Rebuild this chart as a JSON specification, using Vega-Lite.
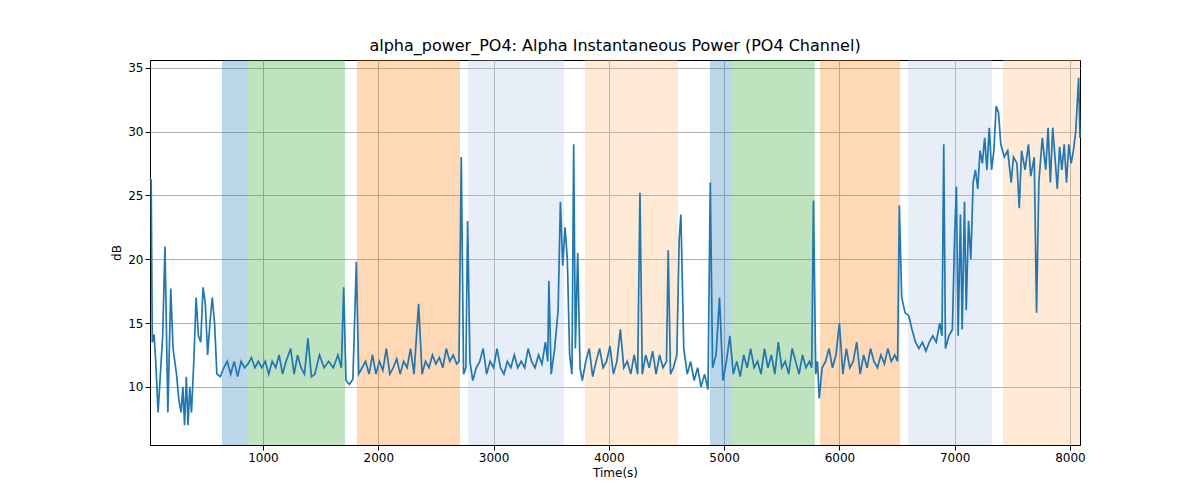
{
  "$schema": "https://vega.github.io/schema/vega-lite/v6.json",
  "width": 930,
  "height": 385,
  "padding": {"left": 150, "top": 60, "right": 120, "bottom": 55},
  "autosize": "none",
  "config": {
    "font": "DejaVu Sans",
    "axis": {"grid": true, "gridColor": "#b0b0b0", "domainColor": "black", "tickColor": "black", "labelColor": "black", "titleColor": "black", "labelFontSize": 12, "titleFontSize": 12, "titleFontWeight": "normal"},
    "view": {"stroke": "black"},
    "title": {"fontSize": 16, "fontWeight": "normal", "color": "black", "offset": 6}
  },
  "title": "alpha_power_PO4: Alpha Instantaneous Power (PO4 Channel)",
  "layer": [
    {
      "data": {"values": [
        {"s": 644, "e": 861, "c": "#1f77b4"},
        {"s": 861, "e": 1711, "c": "#2ca02c"},
        {"s": 1815, "e": 2709, "c": "#ff7f0e"},
        {"s": 2778, "e": 3611, "c": "#aec7e8"},
        {"s": 3793, "e": 4599, "c": "#ffbb78"},
        {"s": 4877, "e": 5059, "c": "#1f77b4"},
        {"s": 5059, "e": 5787, "c": "#2ca02c"},
        {"s": 5831, "e": 6525, "c": "#ff7f0e"},
        {"s": 6594, "e": 7323, "c": "#aec7e8"},
        {"s": 7418, "e": 8087, "c": "#ffbb78"}
      ]},
      "mark": {"type": "rect", "opacity": 0.3},
      "encoding": {
        "x": {"field": "s", "type": "quantitative"},
        "x2": {"field": "e"},
        "color": {"field": "c", "type": "nominal", "scale": null}
      }
    },
    {
      "data": {"values": [
        {"t":20,"v":26.3},{"t":30,"v":26.2},{"t":40,"v":13.5},{"t":55,"v":14.1},{"t":70,"v":12},{"t":90,"v":8},{"t":110,"v":11},{"t":130,"v":14},{"t":150,"v":21},{"t":175,"v":8},{"t":200,"v":17.7},{"t":220,"v":13},{"t":250,"v":11},{"t":270,"v":9},{"t":290,"v":8},{"t":305,"v":10},{"t":320,"v":7},{"t":335,"v":10.8},{"t":350,"v":7},{"t":365,"v":10},{"t":380,"v":8},{"t":400,"v":12},{"t":420,"v":17},{"t":440,"v":14},{"t":460,"v":13.5},{"t":480,"v":17.8},{"t":500,"v":16.5},{"t":520,"v":12.5},{"t":540,"v":15},{"t":560,"v":17},{"t":580,"v":15},{"t":600,"v":11},{"t":630,"v":10.8},{"t":660,"v":11.5},{"t":690,"v":12},{"t":720,"v":11},{"t":750,"v":12},{"t":780,"v":10.8},{"t":810,"v":12},{"t":840,"v":11.5},{"t":870,"v":11.8},{"t":900,"v":12.3},{"t":930,"v":11.5},{"t":960,"v":12},{"t":990,"v":11.5},{"t":1020,"v":12},{"t":1050,"v":11},{"t":1080,"v":12},{"t":1110,"v":11.5},{"t":1140,"v":12.5},{"t":1170,"v":11},{"t":1200,"v":12},{"t":1240,"v":13},{"t":1270,"v":11},{"t":1300,"v":12.5},{"t":1330,"v":11.5},{"t":1360,"v":11},{"t":1390,"v":13.8},{"t":1420,"v":10.8},{"t":1450,"v":11},{"t":1490,"v":12.5},{"t":1530,"v":11.5},{"t":1570,"v":12},{"t":1610,"v":11.5},{"t":1650,"v":12.5},{"t":1680,"v":11.5},{"t":1700,"v":17.8},{"t":1720,"v":10.5},{"t":1750,"v":10.2},{"t":1780,"v":10.6},{"t":1810,"v":19.8},{"t":1830,"v":11},{"t":1860,"v":11.5},{"t":1890,"v":12},{"t":1920,"v":11},{"t":1950,"v":12.5},{"t":1980,"v":11},{"t":2010,"v":12},{"t":2040,"v":11.3},{"t":2070,"v":13},{"t":2100,"v":11},{"t":2130,"v":11.5},{"t":2160,"v":12.2},{"t":2190,"v":11},{"t":2220,"v":12},{"t":2250,"v":11.5},{"t":2280,"v":13},{"t":2310,"v":11},{"t":2350,"v":16.5},{"t":2380,"v":11},{"t":2410,"v":12},{"t":2440,"v":11.5},{"t":2470,"v":12.5},{"t":2500,"v":11.8},{"t":2530,"v":12.3},{"t":2560,"v":11.5},{"t":2590,"v":13},{"t":2620,"v":12},{"t":2650,"v":12.5},{"t":2680,"v":11.8},{"t":2700,"v":12},{"t":2720,"v":28},{"t":2740,"v":11},{"t":2760,"v":11.5},{"t":2775,"v":23},{"t":2795,"v":12},{"t":2820,"v":10.5},{"t":2850,"v":11.5},{"t":2880,"v":12},{"t":2910,"v":13},{"t":2940,"v":11},{"t":2970,"v":12},{"t":3000,"v":11.5},{"t":3030,"v":13},{"t":3060,"v":11.5},{"t":3090,"v":11},{"t":3120,"v":12},{"t":3150,"v":11.5},{"t":3180,"v":12.5},{"t":3210,"v":11.5},{"t":3240,"v":12},{"t":3270,"v":11.5},{"t":3300,"v":13},{"t":3330,"v":12},{"t":3360,"v":11.5},{"t":3390,"v":12.5},{"t":3420,"v":11.8},{"t":3450,"v":13.5},{"t":3470,"v":12},{"t":3480,"v":18.3},{"t":3500,"v":11},{"t":3530,"v":13},{"t":3560,"v":16},{"t":3580,"v":24.5},{"t":3600,"v":19.5},{"t":3620,"v":22.5},{"t":3640,"v":20},{"t":3660,"v":12.5},{"t":3680,"v":11},{"t":3695,"v":29},{"t":3710,"v":13},{"t":3730,"v":20.5},{"t":3750,"v":11.5},{"t":3770,"v":10.5},{"t":3800,"v":12},{"t":3830,"v":13},{"t":3860,"v":10.8},{"t":3890,"v":12},{"t":3920,"v":13},{"t":3950,"v":11.5},{"t":3980,"v":12},{"t":4010,"v":13.2},{"t":4040,"v":11},{"t":4070,"v":12},{"t":4100,"v":14.5},{"t":4130,"v":11.5},{"t":4160,"v":12},{"t":4190,"v":11},{"t":4220,"v":12.5},{"t":4250,"v":11},{"t":4270,"v":25.2},{"t":4290,"v":11},{"t":4320,"v":12.5},{"t":4350,"v":11.5},{"t":4380,"v":12.8},{"t":4410,"v":11},{"t":4440,"v":12.5},{"t":4470,"v":11.5},{"t":4500,"v":12},{"t":4515,"v":20.7},{"t":4535,"v":11},{"t":4560,"v":11.5},{"t":4590,"v":12.5},{"t":4610,"v":21.5},{"t":4625,"v":23.5},{"t":4650,"v":13},{"t":4680,"v":11},{"t":4710,"v":12},{"t":4740,"v":10.5},{"t":4770,"v":11.5},{"t":4800,"v":10},{"t":4830,"v":11},{"t":4860,"v":9.8},{"t":4880,"v":26},{"t":4900,"v":11.5},{"t":4930,"v":12.5},{"t":4960,"v":17},{"t":4990,"v":10.5},{"t":5020,"v":12},{"t":5050,"v":14},{"t":5080,"v":11},{"t":5110,"v":12},{"t":5140,"v":10.8},{"t":5170,"v":12.5},{"t":5200,"v":11.5},{"t":5230,"v":13},{"t":5260,"v":11.5},{"t":5290,"v":12},{"t":5320,"v":11},{"t":5350,"v":13},{"t":5380,"v":11.5},{"t":5410,"v":12.5},{"t":5440,"v":11},{"t":5470,"v":13.5},{"t":5500,"v":11.5},{"t":5530,"v":12},{"t":5560,"v":11},{"t":5590,"v":13},{"t":5620,"v":12},{"t":5650,"v":11},{"t":5680,"v":12.5},{"t":5710,"v":11.5},{"t":5740,"v":12},{"t":5760,"v":11.5},{"t":5775,"v":24.6},{"t":5795,"v":11},{"t":5810,"v":12},{"t":5825,"v":9.1},{"t":5850,"v":11.5},{"t":5880,"v":12},{"t":5910,"v":13},{"t":5940,"v":11.5},{"t":5970,"v":12.5},{"t":6000,"v":15},{"t":6030,"v":11},{"t":6060,"v":13},{"t":6090,"v":11.5},{"t":6120,"v":12},{"t":6150,"v":13.5},{"t":6180,"v":11},{"t":6210,"v":12.5},{"t":6240,"v":11.5},{"t":6270,"v":13},{"t":6300,"v":12},{"t":6330,"v":11.5},{"t":6360,"v":12.5},{"t":6390,"v":11.8},{"t":6420,"v":13},{"t":6450,"v":12},{"t":6480,"v":12.5},{"t":6505,"v":12},{"t":6520,"v":24.2},{"t":6540,"v":17},{"t":6570,"v":15.8},{"t":6600,"v":15.6},{"t":6630,"v":14.5},{"t":6660,"v":13.5},{"t":6690,"v":13},{"t":6720,"v":13.5},{"t":6750,"v":12.8},{"t":6780,"v":13.5},{"t":6810,"v":14},{"t":6840,"v":13.5},{"t":6870,"v":15},{"t":6890,"v":14},{"t":6905,"v":29},{"t":6920,"v":13},{"t":6950,"v":14},{"t":6980,"v":14.5},{"t":7000,"v":22},{"t":7015,"v":25.7},{"t":7030,"v":14},{"t":7050,"v":23.5},{"t":7065,"v":14.5},{"t":7085,"v":24.5},{"t":7100,"v":16},{"t":7120,"v":23},{"t":7140,"v":20},{"t":7160,"v":26},{"t":7180,"v":27},{"t":7200,"v":25.5},{"t":7220,"v":28.5},{"t":7240,"v":27.5},{"t":7260,"v":29.5},{"t":7280,"v":27},{"t":7300,"v":30.3},{"t":7320,"v":27},{"t":7340,"v":28.5},{"t":7360,"v":32},{"t":7380,"v":31.5},{"t":7400,"v":29},{"t":7430,"v":28},{"t":7460,"v":28.5},{"t":7490,"v":26},{"t":7510,"v":28},{"t":7540,"v":27.5},{"t":7560,"v":24},{"t":7580,"v":28.5},{"t":7610,"v":27},{"t":7640,"v":29},{"t":7660,"v":26.5},{"t":7690,"v":28},{"t":7710,"v":15.8},{"t":7730,"v":26},{"t":7760,"v":29.5},{"t":7790,"v":27},{"t":7810,"v":30.3},{"t":7830,"v":26},{"t":7850,"v":30.3},{"t":7870,"v":28},{"t":7890,"v":25.5},{"t":7910,"v":28.8},{"t":7930,"v":27},{"t":7950,"v":29},{"t":7970,"v":26},{"t":7990,"v":29},{"t":8010,"v":27.5},{"t":8030,"v":28.5},{"t":8050,"v":30},{"t":8075,"v":34.2},{"t":8087,"v":29.5}
      ]},
      "mark": {"type": "line", "color": "#1f77b4", "strokeWidth": 1.7},
      "encoding": {
        "x": {"field": "t", "type": "quantitative", "title": "Time(s)",
              "scale": {"domain": [20, 8087], "nice": false, "zero": false},
              "axis": {"values": [1000, 2000, 3000, 4000, 5000, 6000, 7000, 8000], "format": "d", "labelFlush": false}},
        "y": {"field": "v", "type": "quantitative", "title": "dB",
              "scale": {"domain": [5.45, 35.6], "nice": false, "zero": false},
              "axis": {"values": [10, 15, 20, 25, 30, 35]}}
      }
    }
  ]
}
